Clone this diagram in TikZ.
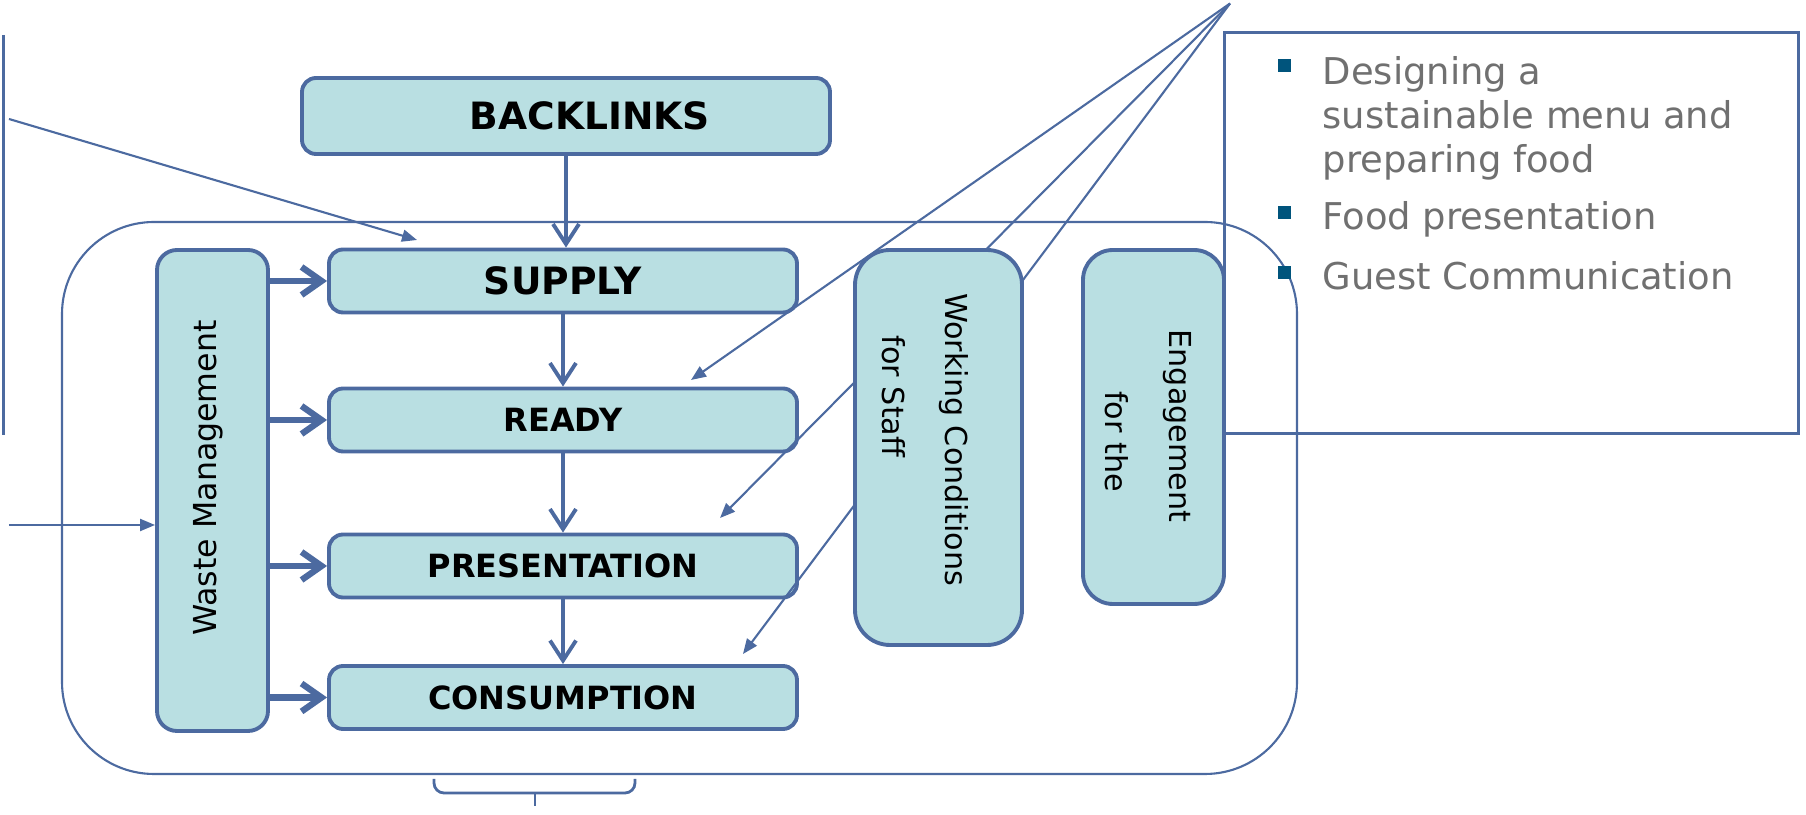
\documentclass[tikz,border=0pt]{standalone}
\usepackage{fontspec}
\setmainfont{DejaVu Sans}
\usepackage{tikz}
\usetikzlibrary{shapes,arrows.meta,positioning,calc}
\usepackage{xcolor}
\definecolor{flowblue}{RGB}{76,106,160}
\definecolor{flowfill}{RGB}{185,223,226}
\definecolor{bulletteal}{RGB}{0,84,124}
\definecolor{notegray}{RGB}{112,112,112}

\begin{document}
\begin{tikzpicture}[
    stagebox/.style={draw=flowblue, fill=flowfill, line width=1.1pt, rounded corners=1.4mm, minimum width=4.68cm, minimum height=0.63cm, inner sep=0pt, font=\bfseries\fontsize{9.1}{11}\selectfont},
    sidebox/.style={draw=flowblue, fill=flowfill, line width=1.1pt, inner sep=0pt},
    bigarrow/.style={-{Straight Barb[length=2mm,width=2.6mm]}, draw=flowblue, line width=1.1pt},
    wastearrow/.style={-{Straight Barb[length=2mm,width=2.8mm]}, draw=flowblue, line width=1.8pt},
    thinarrow/.style={-{Triangle[length=1.5mm,width=1.2mm]}, draw=flowblue, line width=0.6pt},
    sidelabel/.style={font=\fontsize{8.6}{10}\selectfont, inner sep=0pt},
    bullettext/.style={text=notegray, font=\fontsize{10.5}{12.6}\selectfont, align=left, inner sep=0pt, anchor=base west},
    bulletsq/.style={fill=bulletteal, minimum size=1.3mm, inner sep=0pt}
]
    \useasboundingbox (0,0) rectangle (18.06,-8.15);

    % Outer frame
    \draw[flowblue, line width=0.6pt, rounded corners=9.2mm] (0.62,-2.22) rectangle (12.97,-7.74);

    % Left edge line and incoming arrows
    \draw[flowblue, line width=0.8pt] (0.035,-0.35) -- (0.035,-4.35);
    \coordinate (feedA) at (0.09,-1.19);
    \coordinate (feedAend) at (4.17,-2.40);
    \coordinate (feedB) at (0.09,-5.25);

    % Main chain
    \node[stagebox, minimum width=5.28cm, minimum height=0.76cm] (backlinks) at (5.66,-1.16) {};
    \node[font=\bfseries\fontsize{10.7}{13}\selectfont, inner sep=0pt] (backlinkslabel) at ([xshift=2.4mm]backlinks.center) {BACKLINKS};
    \node[stagebox, font=\bfseries\fontsize{10.7}{13}\selectfont] (supply) at (5.63,-2.81) {SUPPLY};
    \node[stagebox] (ready) at (5.63,-4.20) {READY};
    \node[stagebox] (presentation) at (5.63,-5.66) {PRESENTATION};
    \node[stagebox] (consumption) at (5.63,-6.975) {CONSUMPTION};

    % Waste management column
    \node[sidebox, rounded corners=2mm, minimum width=1.11cm, minimum height=4.81cm] (waste) at (2.125,-4.905) {};
    \node[sidelabel, font=\fontsize{9}{11}\selectfont, rotate=90] (wastelabel) at (2.085,-4.78) {Waste Management};

    \draw[thinarrow] (feedA) -- (feedAend);
    \draw[thinarrow] (feedB) -- (feedB -| waste.west);

    \foreach \s in {supply,ready,presentation,consumption}
        \draw[wastearrow] (waste.east |- \s.west) -- (\s.west);

    \draw[bigarrow] (backlinks.south) -- (backlinks.south |- supply.north);
    \draw[bigarrow] (supply.south) -- (ready.north);
    \draw[bigarrow] (ready.south) -- (presentation.north);
    \draw[bigarrow] (presentation.south) -- (consumption.north);

    % Fan of lines from the note
    \coordinate (apex) at (12.30,-0.035);
    \coordinate (fanA) at (6.91,-3.80);
    \coordinate (fanB) at (7.20,-5.18);
    \coordinate (fanC) at (7.43,-6.54);
    \foreach \f in {fanA,fanB,fanC}
        \draw[thinarrow] (apex) -- (\f);

    % Working conditions and engagement
    \node[sidebox, rounded corners=3.5mm, minimum width=1.67cm, minimum height=3.95cm] (working) at (9.385,-4.475) {};
    \node[sidelabel, rotate=-90] (workinglabel) at (9.54,-4.395) {Working Conditions};
    \node[sidelabel, rotate=-90] (stafflabel) at (8.94,-3.965) {for Staff};
    \node[sidebox, rounded corners=3mm, minimum width=1.41cm, minimum height=3.54cm] (engagement) at (11.535,-4.27) {};
    \node[sidelabel, rotate=-90] (engagementlabel) at (11.77,-4.26) {Engagement};
    \node[sidelabel, rotate=-90] (forthelabel) at (11.17,-4.415) {for the};

    % Note box
    \node[draw=flowblue, line width=0.9pt, minimum width=5.74cm, minimum height=4.01cm, inner sep=0pt, anchor=north west] (notebox) at (12.23,-0.31) {};
    \node[bulletsq] (bulletA) at (12.84,-0.66) {};
    \node[bulletsq] (bulletB) at (12.84,-2.13) {};
    \node[bulletsq] (bulletC) at (12.84,-2.73) {};
    \node[bullettext] (itemA) at (13.22,-1.73) {Designing a\\sustainable menu and\\preparing food};
    \node[bullettext] (itemB) at (13.22,-2.30) {Food presentation};
    \node[bullettext] (itemC) at (13.22,-2.90) {Guest Communication};

    % Bracket under the chain
    \draw[flowblue, line width=0.8pt, rounded corners=1mm] (4.34,-7.79) -- (4.34,-7.93) -- (6.35,-7.93) -- (6.35,-7.79);
    \draw[flowblue, line width=0.8pt] (5.35,-7.93) -- (5.35,-8.06);
\end{tikzpicture}
\end{document}
